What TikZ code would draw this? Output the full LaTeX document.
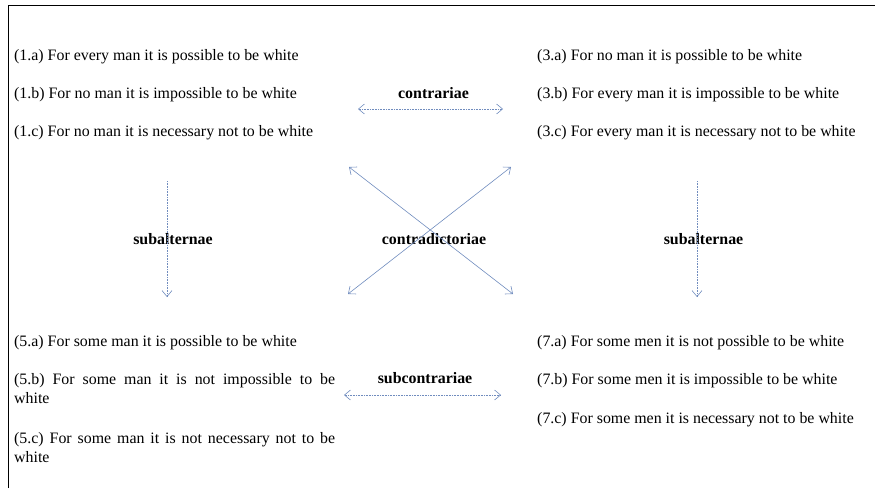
\documentclass[tikz,border=0pt]{standalone}
\usepackage{fontspec}
\setmainfont{Liberation Serif}
\usetikzlibrary{arrows.meta}
\definecolor{relblue}{RGB}{112,140,190}
\begin{document}
\begin{tikzpicture}[x=1pt,y=-1pt,
  prop/.style={anchor=base west,inner sep=0pt,align=left,
    font=\fontsize{15.9pt}{19pt}\selectfont},
  rel/.style={anchor=base,inner sep=0pt,
    font=\fontsize{15.9pt}{19pt}\selectfont\bfseries},
  link/.style={draw=relblue,line width=0.6pt},
  dotlink/.style={link,densely dotted},
  onetip/.style={-{Straight Barb[length=6pt,width=10pt]}},
  twotips/.style={{Straight Barb[length=6pt,width=10pt]}-{Straight Barb[length=6pt,width=10pt]}}
]
\useasboundingbox (0,0) rectangle (875,488);

% open frame
\draw[line width=1pt] (8,488) -- (8,5) -- (875,5);

% universal propositions
\node[prop] (p1a) at (14,60)  {(1.a) For every man it is possible to be white};
\node[prop] (p1b) at (14,98)  {(1.b) For no man it is impossible to be white};
\node[prop] (p1c) at (14,136) {(1.c) For no man it is necessary not to be white};
\node[prop] (p3a) at (537,60)  {(3.a) For no man it is possible to be white};
\node[prop] (p3b) at (537,98)  {(3.b) For every man it is impossible to be white};
\node[prop] (p3c) at (537,136) {(3.c) For every man it is necessary not to be white};

% particular propositions (multi-line nodes sit on their last baseline)
\node[prop] (p5a) at (14,346) {(5.a) For some man it is possible to be white};
\node[prop] (p5b) at (14,403) {\makebox[321pt][s]{(5.b) For some man it is not impossible to be}\\white};
\node[prop] (p5c) at (14,462) {\makebox[321pt][s]{(5.c) For some man it is not necessary not to be}\\white};
\node[prop] (p7a) at (537,346) {(7.a) For some men it is not possible to be white};
\node[prop] (p7b) at (537,384) {(7.b) For some men it is impossible to be white};
\node[prop] (p7c) at (537,423) {(7.c) For some men it is necessary not to be white};

% relation names
\node[rel] (lcontr)  at (433.5,98)  {contrariae};
\node[rel] (lsubl)   at (173,244)   {subalternae};
\node[rel] (lcontra) at (434,244)   {contradictoriae};
\node[rel] (lsubr)   at (703.5,244) {subalternae};
\node[rel] (lsubc)   at (425,383)   {subcontrariae};

% arrow end points
\coordinate (cl) at (358,109);
\coordinate (cr) at (503,109);
\coordinate (sl) at (344,395);
\coordinate (sr) at (501,395);
\coordinate (lt) at (167,181);
\coordinate (lb) at (167,297);
\coordinate (rt) at (697,181);
\coordinate (rb) at (697,297);
\coordinate (dtl) at (349,167);
\coordinate (dbr) at (513,294);
\coordinate (dtr) at (511,167);
\coordinate (dbl) at (348,294);

% relations
\draw[dotlink,twotips] (cl) -- (cr);
\draw[dotlink,twotips] (sl) -- (sr);
\draw[dotlink,onetip] (lt) -- (lb);
\draw[dotlink,onetip] (rt) -- (rb);
\draw[link,twotips] (dtl) -- (dbr);
\draw[link,twotips] (dtr) -- (dbl);
\end{tikzpicture}
\end{document}
